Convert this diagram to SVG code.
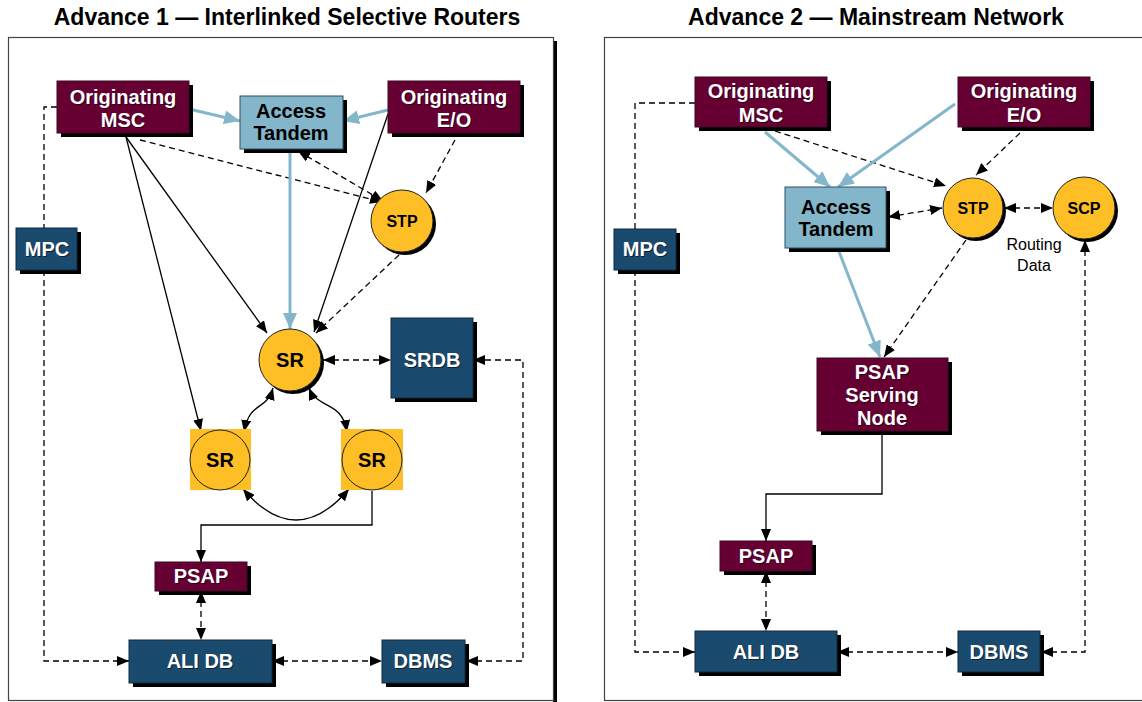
<svg xmlns="http://www.w3.org/2000/svg" width="1142" height="702" viewBox="0 0 1142 702">
  <style>
    .title { font-family: "Liberation Sans", Arial, sans-serif; font-weight: bold; font-size: 23px; fill: #000; text-anchor: middle; }
    .lbl { font-family: "Liberation Sans", Arial, sans-serif; font-weight: bold; font-size: 20px; text-anchor: middle; dominant-baseline: central; }
    .sm { font-size: 16px; }
    .w { fill: #fff; }
    .sh { fill: #000; opacity: 0.55; }
    .k { fill: #000; }
    .note { font-family: "Liberation Sans", Arial, sans-serif; font-size: 16px; fill: #000; text-anchor: middle; dominant-baseline: central; }
    .frame { fill: #fff; stroke: #444; stroke-width: 1.2; }
    .maroon { fill: #660033; stroke: #3a0a20; stroke-width: 1; }
    .navy { fill: #1A4A6E; stroke: #0d2a40; stroke-width: 1; }
    .sky { fill: #84B6CB; stroke: #2f4f5f; stroke-width: 1; }
    .gold { fill: #FDBE26; stroke: #222; stroke-width: 1; }
    .shadow { fill: #000; }
    .solid { fill: none; stroke: #000; stroke-width: 1.3; }
    .dash { fill: none; stroke: #000; stroke-width: 1.3; stroke-dasharray: 6 4; }
    .blue { fill: none; stroke: #84B6CB; stroke-width: 3; }
  </style>
  <defs>
    <marker id="ah" viewBox="0 0 12 10" refX="12" refY="5" markerWidth="12" markerHeight="10" markerUnits="userSpaceOnUse" orient="auto-start-reverse">
      <path d="M0,0 L12,5 L0,10 z" fill="#000"/>
    </marker>
    <marker id="ahb" viewBox="0 0 16 14" refX="16" refY="7" markerWidth="16" markerHeight="14" markerUnits="userSpaceOnUse" orient="auto-start-reverse">
      <path d="M0,0 L16,7 L0,14 z" fill="#84B6CB"/>
    </marker>
  </defs>

  <!-- panel titles -->
  <text class="title" x="287" y="25">Advance 1 — Interlinked Selective Routers</text>
  <text class="title" x="876" y="25">Advance 2 — Mainstream Network</text>

  <!-- panel frames -->
  <rect x="553" y="41" width="4" height="661" fill="#000"/>
  <rect class="frame" x="8.5" y="37.5" width="545" height="663"/>
  <rect class="frame" x="604.5" y="37.5" width="560" height="663"/>

  <!-- ===== connectors, panel 1 ===== -->
  <g id="edges-advance-1">
    <!-- MPC feed -->
    <path class="dash" d="M57,107 H44 V228"/>
    <path class="dash" d="M44,270 V661 H129" marker-end="url(#ah)"/>
    <!-- signalling -->
    <path class="dash" d="M140,140 L382,202" marker-end="url(#ah)"/>
    <path class="dash" d="M298,151 L383,201" marker-start="url(#ah)" marker-end="url(#ah)"/>
    <path class="dash" d="M455,140 L426,193" marker-end="url(#ah)"/>
    <path class="dash" d="M399,255 L316,333" marker-end="url(#ah)"/>
    <path class="dash" d="M323,360 H391" marker-start="url(#ah)" marker-end="url(#ah)"/>
    <path class="dash" d="M466,661 H523 V360 H473" marker-start="url(#ah)" marker-end="url(#ah)"/>
    <path class="dash" d="M201,591 V640" marker-start="url(#ah)" marker-end="url(#ah)"/>
    <path class="dash" d="M272,661 H382" marker-start="url(#ah)" marker-end="url(#ah)"/>
    <!-- trunks -->
    <path class="blue" d="M189,109 L240,121" marker-end="url(#ahb)"/>
    <path class="blue" d="M388,110 L343,121" marker-end="url(#ahb)"/>
    <path class="blue" d="M290,149 V329" marker-end="url(#ahb)"/>
    <path class="solid" d="M126,137 L267,333" marker-end="url(#ah)"/>
    <path class="solid" d="M126,137 L201,431" marker-end="url(#ah)"/>
    <path class="solid" d="M388,114 L314,332" marker-end="url(#ah)"/>
    <!-- selective router interlinks -->
    <path class="solid" d="M273,388 C266,412 250,400 244,432" marker-start="url(#ah)" marker-end="url(#ah)"/>
    <path class="solid" d="M309,388 C318,410 342,400 347,432" marker-start="url(#ah)" marker-end="url(#ah)"/>
    <path class="solid" d="M243,489 Q296,551 349,489" marker-start="url(#ah)" marker-end="url(#ah)"/>
    <path class="solid" d="M372,491 V525 H201 V562" marker-end="url(#ah)"/>
  </g>

  <!-- ===== nodes, panel 1 ===== -->
  <g id="a1-orig-msc">
    <rect class="shadow" x="61" y="85" width="132" height="52"/>
    <rect class="maroon" x="57" y="81" width="132" height="52"/>
    <text class="lbl sh" x="124" y="98">Originating</text><text class="lbl w" x="123" y="97">Originating</text>
    <text class="lbl sh" x="124" y="121">MSC</text><text class="lbl w" x="123" y="120">MSC</text>
  </g>
  <g id="a1-access-tandem">
    <rect class="shadow" x="244" y="100" width="103" height="53"/>
    <rect class="sky" x="240" y="96" width="103" height="53"/>
    <text class="lbl k" x="291" y="111">Access</text>
    <text class="lbl k" x="291" y="133">Tandem</text>
  </g>
  <g id="a1-orig-eo">
    <rect class="shadow" x="392" y="85" width="132" height="52"/>
    <rect class="maroon" x="388" y="81" width="132" height="52"/>
    <text class="lbl sh" x="455" y="98">Originating</text><text class="lbl w" x="454" y="97">Originating</text>
    <text class="lbl sh" x="455" y="121">E/O</text><text class="lbl w" x="454" y="120">E/O</text>
  </g>
  <g id="a1-stp">
    <circle class="shadow" cx="405" cy="224" r="31"/>
    <circle class="gold" cx="402" cy="221" r="31"/>
    <text class="lbl k sm" x="402" y="221">STP</text>
  </g>
  <g id="a1-mpc">
    <rect class="shadow" x="20" y="232" width="61" height="42"/>
    <rect class="navy" x="16" y="228" width="61" height="42"/>
    <text class="lbl sh" x="48" y="250">MPC</text><text class="lbl w" x="47" y="249">MPC</text>
  </g>
  <g id="a1-sr-main">
    <circle class="shadow" cx="293" cy="363" r="31"/>
    <circle class="gold" cx="290" cy="360" r="31"/>
    <text class="lbl k" x="290" y="360">SR</text>
  </g>
  <g id="a1-srdb">
    <rect class="shadow" x="395" y="322" width="82" height="80"/>
    <rect class="navy" x="391" y="318" width="82" height="80"/>
    <text class="lbl sh" x="433" y="361">SRDB</text><text class="lbl w" x="432" y="360">SRDB</text>
  </g>
  <g id="a1-sr-left">
    <rect x="190" y="429" width="61" height="61" fill="#FDBE26"/>
    <circle class="gold" cx="220" cy="460" r="30"/>
    <text class="lbl k" x="220" y="460">SR</text>
  </g>
  <g id="a1-sr-right">
    <rect x="341" y="429" width="62" height="61" fill="#FDBE26"/>
    <circle class="gold" cx="372" cy="460" r="30"/>
    <text class="lbl k" x="372" y="460">SR</text>
  </g>
  <g id="a1-psap">
    <rect class="shadow" x="159" y="566" width="92" height="29"/>
    <rect class="maroon" x="155" y="562" width="92" height="29"/>
    <text class="lbl sh" x="202" y="577">PSAP</text><text class="lbl w" x="201" y="576">PSAP</text>
  </g>
  <g id="a1-ali-db">
    <rect class="shadow" x="133" y="644" width="143" height="43"/>
    <rect class="navy" x="129" y="640" width="143" height="43"/>
    <text class="lbl sh" x="201" y="662">ALI DB</text><text class="lbl w" x="200" y="661">ALI DB</text>
  </g>
  <g id="a1-dbms">
    <rect class="shadow" x="386" y="644" width="83" height="43"/>
    <rect class="navy" x="382" y="640" width="83" height="43"/>
    <text class="lbl sh" x="424" y="662">DBMS</text><text class="lbl w" x="423" y="661">DBMS</text>
  </g>

  <!-- ===== connectors, panel 2 ===== -->
  <g id="edges-advance-2">
    <path class="dash" d="M695,103 H635 V229"/>
    <path class="dash" d="M635,270 V652 H695" marker-end="url(#ah)"/>
    <path class="dash" d="M775,131 L946,186" marker-end="url(#ah)"/>
    <path class="dash" d="M1020,133 L976,175" marker-end="url(#ah)"/>
    <path class="dash" d="M888,217 L942,208" marker-start="url(#ah)" marker-end="url(#ah)"/>
    <path class="dash" d="M1004,208 H1053" marker-start="url(#ah)" marker-end="url(#ah)"/>
    <path class="dash" d="M966,240 L884,357" marker-end="url(#ah)"/>
    <path class="dash" d="M766,571 V631" marker-start="url(#ah)" marker-end="url(#ah)"/>
    <path class="dash" d="M837,652 H958" marker-start="url(#ah)" marker-end="url(#ah)"/>
    <path class="dash" d="M1041,652 H1085 V240" marker-start="url(#ah)" marker-end="url(#ah)"/>
    <path class="blue" d="M765,132 L830,187" marker-end="url(#ahb)"/>
    <path class="blue" d="M955,104 L838,187" marker-end="url(#ahb)"/>
    <path class="blue" d="M838,249 L880,357" marker-end="url(#ahb)"/>
    <path class="solid" d="M882,431 V494 H766 V541" marker-end="url(#ah)"/>
  </g>

  <!-- ===== nodes, panel 2 ===== -->
  <g id="a2-orig-msc">
    <rect class="shadow" x="699" y="81" width="132" height="50"/>
    <rect class="maroon" x="695" y="77" width="132" height="50"/>
    <text class="lbl sh" x="762" y="92">Originating</text><text class="lbl w" x="761" y="91">Originating</text>
    <text class="lbl sh" x="762" y="116">MSC</text><text class="lbl w" x="761" y="115">MSC</text>
  </g>
  <g id="a2-orig-eo">
    <rect class="shadow" x="962" y="81" width="132" height="50"/>
    <rect class="maroon" x="958" y="77" width="132" height="50"/>
    <text class="lbl sh" x="1025" y="92">Originating</text><text class="lbl w" x="1024" y="91">Originating</text>
    <text class="lbl sh" x="1025" y="116">E/O</text><text class="lbl w" x="1024" y="115">E/O</text>
  </g>
  <g id="a2-access-tandem">
    <rect class="shadow" x="789" y="191" width="101" height="61"/>
    <rect class="sky" x="785" y="187" width="101" height="61"/>
    <text class="lbl k" x="836" y="207">Access</text>
    <text class="lbl k" x="836" y="229">Tandem</text>
  </g>
  <g id="a2-stp">
    <circle class="shadow" cx="976" cy="211" r="30"/>
    <circle class="gold" cx="973" cy="208" r="30"/>
    <text class="lbl k sm" x="973" y="208">STP</text>
  </g>
  <g id="a2-scp">
    <circle class="shadow" cx="1087" cy="211" r="31"/>
    <circle class="gold" cx="1084" cy="208" r="31"/>
    <text class="lbl k sm" x="1084" y="208">SCP</text>
  </g>
  <g id="a2-routing-data">
    <text class="note" x="1034" y="244">Routing</text>
    <text class="note" x="1034" y="265">Data</text>
  </g>
  <g id="a2-mpc">
    <rect class="shadow" x="618" y="233" width="62" height="41"/>
    <rect class="navy" x="614" y="229" width="62" height="41"/>
    <text class="lbl sh" x="646" y="250">MPC</text><text class="lbl w" x="645" y="249">MPC</text>
  </g>
  <g id="a2-psap-serving-node">
    <rect class="shadow" x="821" y="362" width="131" height="73"/>
    <rect class="maroon" x="817" y="358" width="131" height="73"/>
    <text class="lbl sh" x="883" y="373">PSAP</text><text class="lbl w" x="882" y="372">PSAP</text>
    <text class="lbl sh" x="883" y="396">Serving</text><text class="lbl w" x="882" y="395">Serving</text>
    <text class="lbl sh" x="883" y="419">Node</text><text class="lbl w" x="882" y="418">Node</text>
  </g>
  <g id="a2-psap">
    <rect class="shadow" x="724" y="545" width="92" height="30"/>
    <rect class="maroon" x="720" y="541" width="92" height="30"/>
    <text class="lbl sh" x="767" y="557">PSAP</text><text class="lbl w" x="766" y="556">PSAP</text>
  </g>
  <g id="a2-ali-db">
    <rect class="shadow" x="699" y="635" width="142" height="41"/>
    <rect class="navy" x="695" y="631" width="142" height="41"/>
    <text class="lbl sh" x="767" y="653">ALI DB</text><text class="lbl w" x="766" y="652">ALI DB</text>
  </g>
  <g id="a2-dbms">
    <rect class="shadow" x="962" y="635" width="82" height="41"/>
    <rect class="navy" x="958" y="631" width="82" height="41"/>
    <text class="lbl sh" x="1000" y="653">DBMS</text><text class="lbl w" x="999" y="652">DBMS</text>
  </g>
</svg>
